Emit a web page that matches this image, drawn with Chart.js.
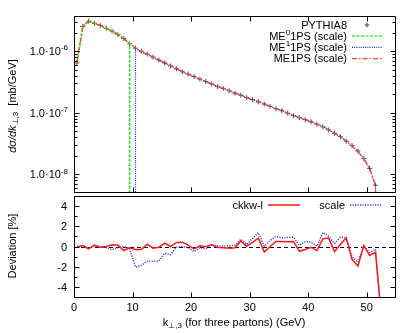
<!DOCTYPE html>
<html>
<head>
<meta charset="utf-8">
<script src="https://cdn.jsdelivr.net/npm/chart.js@4.4.1/dist/chart.umd.min.js"></script>
<style>
  body { margin: 0; background: #fff; }
  #wrap { position: relative; width: 415px; height: 333px; }
  canvas { position: absolute; left: 0; }
  #top { top: 0; }
  #bot { top: 196px; }
</style>
</head>
<body>
<div id="wrap">
  <canvas id="top" width="415" height="197"></canvas>
  <canvas id="bot" width="415" height="137"></canvas>
</div>
<script>
// bin centres in k_T,3 (GeV)
var ktBins = [0.5, 1.5, 2.5, 3.5, 4.5, 5.5, 6.5, 7.5, 8.5, 9.5,
  10.5, 11.5, 12.5, 13.5, 14.5, 15.5, 16.5, 17.5, 18.5, 19.5,
  20.5, 21.5, 22.5, 23.5, 24.5, 25.5, 26.5, 27.5, 28.5, 29.5,
  30.5, 31.5, 32.5, 33.5, 34.5, 35.5, 36.5, 37.5, 38.5, 39.5,
  40.5, 41.5, 42.5, 43.5, 44.5, 45.5, 46.5, 47.5, 48.5, 49.5,
  50.5, 51.5];

// dsigma/dk (mb/GeV)
var pythia8 = [6.45e-7, 2.52e-6, 3.07e-6, 2.83e-6, 2.61e-6, 2.36e-6, 2.12e-6, 1.86e-6, 1.61e-6, 1.32e-6,
  1.12e-6, 1.00e-6, 8.96e-7, 8.03e-7, 7.19e-7, 6.45e-7, 5.78e-7, 5.18e-7, 4.64e-7, 4.24e-7,
  3.87e-7, 3.53e-7, 3.22e-7, 2.94e-7, 2.68e-7, 2.49e-7, 2.28e-7, 2.08e-7, 1.93e-7, 1.76e-7,
  1.64e-7, 1.50e-7, 1.39e-7, 1.27e-7, 1.16e-7, 1.08e-7, 9.82e-8, 8.96e-8, 8.33e-8, 7.74e-8,
  7.12e-8, 6.52e-8, 5.93e-8, 5.28e-8, 4.64e-8, 4.09e-8, 3.46e-8, 2.94e-8, 2.40e-8, 1.80e-8,
  1.25e-8, 6.68e-9];

// ME0 1PS only below the merging scale (first 10 bins)
var me0Scale = [6.45e-7, 2.52e-6, 3.07e-6, 2.83e-6, 2.61e-6, 2.36e-6, 2.12e-6, 1.86e-6, 1.61e-6, 1.32e-6];

// ME1 1PS only above it (bins 10.5 .. 51.5)
var me1Scale = [1.10e-6, 0.98e-6, 8.83e-7, 7.91e-7, 7.09e-7, 6.41e-7, 5.73e-7, 5.18e-7, 4.64e-7, 4.23e-7,
  3.85e-7, 3.53e-7, 3.21e-7, 2.95e-7, 2.68e-7, 2.49e-7, 2.28e-7, 2.08e-7, 1.94e-7, 1.76e-7,
  1.65e-7, 1.52e-7, 1.39e-7, 1.28e-7, 1.17e-7, 1.09e-7, 9.91e-8, 9.04e-8, 8.34e-8, 7.78e-8,
  7.15e-8, 6.52e-8, 6.01e-8, 5.33e-8, 4.65e-8, 4.13e-8, 3.49e-8, 2.91e-8, 2.36e-8, 1.80e-8,
  1.24e-8, 6.66e-9];

var me1psScale = [6.45e-7, 2.52e-6, 3.06e-6, 2.83e-6, 2.61e-6, 2.36e-6, 2.12e-6, 1.86e-6, 1.60e-6, 1.32e-6,
  1.12e-6, 1.00e-6, 8.98e-7, 8.02e-7, 7.18e-7, 6.47e-7, 5.78e-7, 5.20e-7, 4.66e-7, 4.25e-7,
  3.86e-7, 3.53e-7, 3.22e-7, 2.94e-7, 2.68e-7, 2.49e-7, 2.28e-7, 2.08e-7, 1.94e-7, 1.76e-7,
  1.65e-7, 1.51e-7, 1.38e-7, 1.27e-7, 1.17e-7, 1.09e-7, 9.87e-8, 9.00e-8, 8.29e-8, 7.72e-8,
  7.11e-8, 6.49e-8, 5.97e-8, 5.32e-8, 4.62e-8, 4.10e-8, 3.49e-8, 2.90e-8, 2.35e-8, 1.80e-8,
  1.24e-8, 6.64e-9];

// deviation panel (%), last bin is the empty one after the spectrum ends
var devBins = ktBins.concat([52.5]);
var ckkwDev = [-0.07, 0.1, -0.23, 0.13, -0.07, 0.0, 0.17, 0.13, -0.4, -0.13,
  -0.3, -0.3, 0.23, -0.17, -0.07, 0.33, 0.0, 0.4, 0.43, 0.13,
  -0.23, 0.07, -0.03, 0.17, -0.07, -0.12, -0.17, -0.13, 0.55, 0.03,
  0.4, 0.83, -0.55, 0.0, 0.5, 0.5, 0.48, 0.5, -0.47, -0.3,
  -0.07, -0.4, 0.76, 0.83, -0.5, 0.2, 0.86, -1.3, -1.93, 0.1,
  -0.9, -0.57, -7];
var scaleDev = [0.0, 0.1, -0.15, 0.1, -0.05, -0.1, -0.33, -0.1, 0.0, -0.23,
  -2.04, -1.87, -1.45, -1.45, -1.45, -0.66, -0.82, -0.07, 0.0, -0.1,
  -0.5, -0.1, -0.23, 0.2, 0.07, 0.05, 0.07, 0.1, 0.72, 0.2,
  0.8, 1.38, 0.03, 0.6, 1.0, 0.85, 0.9, 0.92, 0.13, 0.5,
  0.43, 0.03, 1.38, 1.0, 0.3, 0.92, 0.86, -1.05, -1.55, 0.03,
  -0.6, -0.27, -7];

var xTicks = [0, 10, 20, 30, 40, 50];
var logTicks = [1e-8, 1e-7, 1e-6];
var logTickExp = ['-8', '-7', '-6'];
var devTicks = [-4, -2, 0, 2, 4];

var ZERO = 1e-15; // stands in for an empty bin on the log axis
var FONT = '"Liberation Sans", Arial, sans-serif';

function pts(xs, ys) {
  return ys.map(function (v, i) { return { x: xs[i], y: v }; });
}

var me0Data = pts(ktBins.slice(0, 10), me0Scale);
me0Data.push({ x: 9.5, y: ZERO });
var me1Data = [{ x: 10.5, y: ZERO }].concat(pts(ktBins.slice(10), me1Scale));
me1Data.push({ x: 51.6, y: ZERO });
var me1psData = pts(ktBins, me1psScale);
me1psData.push({ x: 51.6, y: ZERO });

function sample(ctx, x1, x2, y, color, dash, w) {
  ctx.save();
  ctx.strokeStyle = color;
  ctx.lineWidth = w;
  ctx.setLineDash(dash);
  ctx.beginPath();
  ctx.moveTo(x1, y);
  ctx.lineTo(x2, y);
  ctx.stroke();
  ctx.restore();
}

// draw a list of [text, size, shift, italic] pieces starting at x
function pieces(ctx, parts, x, y) {
  parts.forEach(function (p) {
    ctx.font = (p[3] ? 'italic ' : '') + p[1] + 'px ' + FONT;
    ctx.fillText(p[0], x, y + p[2]);
    x += ctx.measureText(p[0]).width;
  });
  return x;
}
function piecesWidth(ctx, parts) {
  var w = 0;
  parts.forEach(function (p) {
    ctx.font = (p[3] ? 'italic ' : '') + p[1] + 'px ' + FONT;
    w += ctx.measureText(p[0]).width;
  });
  return w;
}

var topFrame = {
  id: 'topFrame',
  afterDraw: function (chart) {
    var ctx = chart.ctx, a = chart.chartArea, xs = chart.scales.x, ys = chart.scales.y;
    var L = a.left + 0.5, R = a.right - 0.5, T = a.top + 0.5, B = a.bottom + 0.5;
    ctx.save();
    ctx.strokeStyle = '#000';
    ctx.lineWidth = 1;
    ctx.setLineDash([]);
    ctx.beginPath();
    ctx.rect(L, T, R - L, B - T);
    xTicks.forEach(function (v) {
      var p = Math.round(xs.getPixelForValue(v)) + 0.5;
      ctx.moveTo(p, B); ctx.lineTo(p, B - 5);
      ctx.moveTo(p, T); ctx.lineTo(p, T + 5);
    });
    for (var e = -9; e <= -6; e++) {
      for (var m = 1; m <= 9; m++) {
        var v = m * Math.pow(10, e);
        if (v < ys.min || v > ys.max) continue;
        var p = Math.round(ys.getPixelForValue(v)) + 0.5;
        var len = m === 1 ? 5 : 3;
        ctx.moveTo(L, p); ctx.lineTo(L + len, p);
        ctx.moveTo(R, p); ctx.lineTo(R - len, p);
      }
    }
    ctx.stroke();

    // y tick labels 1.0·10^n
    ctx.fillStyle = '#000';
    ctx.textBaseline = 'middle';
    logTicks.forEach(function (v, i) {
      var p = ys.getPixelForValue(v);
      var parts = [['1.0\u00b710', 11, 1], [logTickExp[i], 8, -3]];
      var w = piecesWidth(ctx, parts);
      pieces(ctx, parts, 68 - w, p);
    });

    // y title
    ctx.save();
    ctx.translate(13, 106);
    ctx.rotate(-Math.PI / 2);
    var tparts = [['d\u03c3/dk', 11, 0, true], ['\u22a5,3', 8, 3], ['  [mb/GeV]', 11, 0]];
    var tw = piecesWidth(ctx, tparts);
    pieces(ctx, tparts, -tw / 2, 0);
    ctx.restore();

    // legend
    var tx = 347, s1 = 352, s2 = 382;
    var rows = [25, 36.2, 47.4, 58.6];
    var labels = [
      [['PYTHIA8', 11, 0]],
      [['ME', 11, 0], ['0', 8, -4], ['1PS (scale)', 11, 0]],
      [['ME', 11, 0], ['1', 8, -4], ['1PS (scale)', 11, 0]],
      [['ME1PS (scale)', 11, 0]]
    ];
    labels.forEach(function (parts, i) {
      var w = piecesWidth(ctx, parts);
      pieces(ctx, parts, tx - w, rows[i] + 0.5);
    });
    ctx.beginPath();
    ctx.strokeStyle = '#444';
    ctx.moveTo(364.5, rows[0]); ctx.lineTo(369.5, rows[0]);
    ctx.moveTo(367, rows[0] - 2.5); ctx.lineTo(367, rows[0] + 2.5);
    ctx.stroke();
    sample(ctx, s1, s2, rows[1], '#22e022', [3, 1.5], 1.3);
    sample(ctx, s1, s2, rows[2], '#2020ff', [1, 1.2], 1.2);
    sample(ctx, s1, s2, rows[3], '#ff4a1a', [5, 2, 1.5, 2], 1.2);
    ctx.restore();
  }
};

var botFrame = {
  id: 'botFrame',
  beforeDatasetsDraw: function (chart) {
    var ctx = chart.ctx, a = chart.chartArea, ys = chart.scales.y;
    var p = Math.round(ys.getPixelForValue(0)) + 0.5;
    ctx.save();
    ctx.strokeStyle = '#000';
    ctx.lineWidth = 1;
    ctx.setLineDash([4, 3]);
    ctx.beginPath();
    ctx.moveTo(a.left, p); ctx.lineTo(a.right, p);
    ctx.stroke();
    ctx.restore();
  },
  afterDraw: function (chart) {
    var ctx = chart.ctx, a = chart.chartArea, xs = chart.scales.x, ys = chart.scales.y;
    var L = a.left + 0.5, R = a.right - 0.5, T = a.top + 0.5, B = a.bottom + 0.5;
    ctx.save();
    ctx.strokeStyle = '#000';
    ctx.lineWidth = 1;
    ctx.setLineDash([]);
    ctx.beginPath();
    ctx.rect(L, T, R - L, B - T);
    xTicks.forEach(function (v) {
      var p = Math.round(xs.getPixelForValue(v)) + 0.5;
      ctx.moveTo(p, B); ctx.lineTo(p, B - 5);
    });
    for (var v = -5; v <= 5; v++) {
      var p = Math.round(ys.getPixelForValue(v)) + 0.5;
      var len = v % 2 === 0 ? 5 : 3;
      ctx.moveTo(L, p); ctx.lineTo(L + len, p);
      ctx.moveTo(R, p); ctx.lineTo(R - len, p);
    }
    ctx.stroke();

    ctx.fillStyle = '#000';
    ctx.font = '11px ' + FONT;
    ctx.textBaseline = 'middle';
    ctx.textAlign = 'right';
    devTicks.forEach(function (v) {
      ctx.fillText(String(v), 67, ys.getPixelForValue(v) + 1);
    });
    ctx.textAlign = 'center';
    xTicks.forEach(function (v) {
      ctx.fillText(String(v), xs.getPixelForValue(v), 112);
    });

    // x title (page y 323 -> canvas y 127)
    ctx.textAlign = 'left';
    var xparts = [['k', 11, 0], ['\u22a5,3', 8, 3], [' (for three partons) (GeV)', 11, 0]];
    var xw = piecesWidth(ctx, xparts);
    pieces(ctx, xparts, 234 - xw / 2, 127);

    // y title
    ctx.save();
    ctx.translate(13, 50);
    ctx.rotate(-Math.PI / 2);
    ctx.font = '11px ' + FONT;
    ctx.textAlign = 'center';
    ctx.fillText('Deviation [%]', 0, 0);
    ctx.restore();

    // legend (page y 205 -> canvas y 9)
    ctx.font = '11px ' + FONT;
    ctx.textAlign = 'right';
    ctx.fillText('ckkw-l', 263, 9.5);
    ctx.fillText('scale', 345, 9.5);
    sample(ctx, 268, 300, 9, '#ff1a1a', [], 1.5);
    sample(ctx, 350, 382, 9, '#3a3aff', [1.2, 1.3], 1.4);
    ctx.restore();
  }
};

new Chart(document.getElementById('top'), {
  type: 'line',
  data: {
    datasets: [{
      label: 'ME1PS (scale)',
      data: me1psData,
      borderColor: '#ff4a1a',
      borderWidth: 1.3,
      borderDash: [5, 2, 1.5, 2],
      pointRadius: 0,
      order: 1
    }, {
      label: 'ME1 1PS (scale)',
      data: me1Data,
      borderColor: '#2020ff',
      borderWidth: 1.2,
      borderDash: [1, 1.2],
      pointRadius: 0,
      order: 2
    }, {
      label: 'ME0 1PS (scale)',
      data: me0Data,
      borderColor: '#22e022',
      borderWidth: 1.6,
      borderDash: [3, 1.5],
      pointRadius: 0,
      order: 3
    }, {
      label: 'PYTHIA8',
      data: pts(ktBins, pythia8),
      showLine: false,
      pointStyle: 'cross',
      pointRadius: 2.5,
      borderColor: '#555',
      borderWidth: 1,
      order: 4
    }]
  },
  options: {
    responsive: false,
    animation: false,
    layout: { padding: { left: 74, right: 19, top: 16, bottom: 1 } },
    plugins: { legend: { display: false }, tooltip: { enabled: false } },
    scales: {
      x: { type: 'linear', min: 0, max: 55, display: false },
      y: { type: 'logarithmic', min: 5.18e-9, max: 3.73e-6, display: false }
    }
  },
  plugins: [topFrame]
});

new Chart(document.getElementById('bot'), {
  type: 'line',
  data: {
    datasets: [{
      label: 'ckkw-l',
      data: pts(devBins, ckkwDev),
      borderColor: '#ff1a1a',
      borderWidth: 1.5,
      pointRadius: 0,
      order: 1
    }, {
      label: 'scale',
      data: pts(devBins, scaleDev),
      borderColor: '#3a3aff',
      borderWidth: 1.4,
      borderDash: [1.2, 1.3],
      pointRadius: 0,
      order: 2
    }]
  },
  options: {
    responsive: false,
    animation: false,
    layout: { padding: { left: 74, right: 19, top: 0, bottom: 36 } },
    plugins: { legend: { display: false }, tooltip: { enabled: false } },
    scales: {
      x: { type: 'linear', min: 0, max: 55, display: false },
      y: { type: 'linear', min: -5, max: 5, display: false }
    }
  },
  plugins: [botFrame]
});
</script>
</body>
</html>
